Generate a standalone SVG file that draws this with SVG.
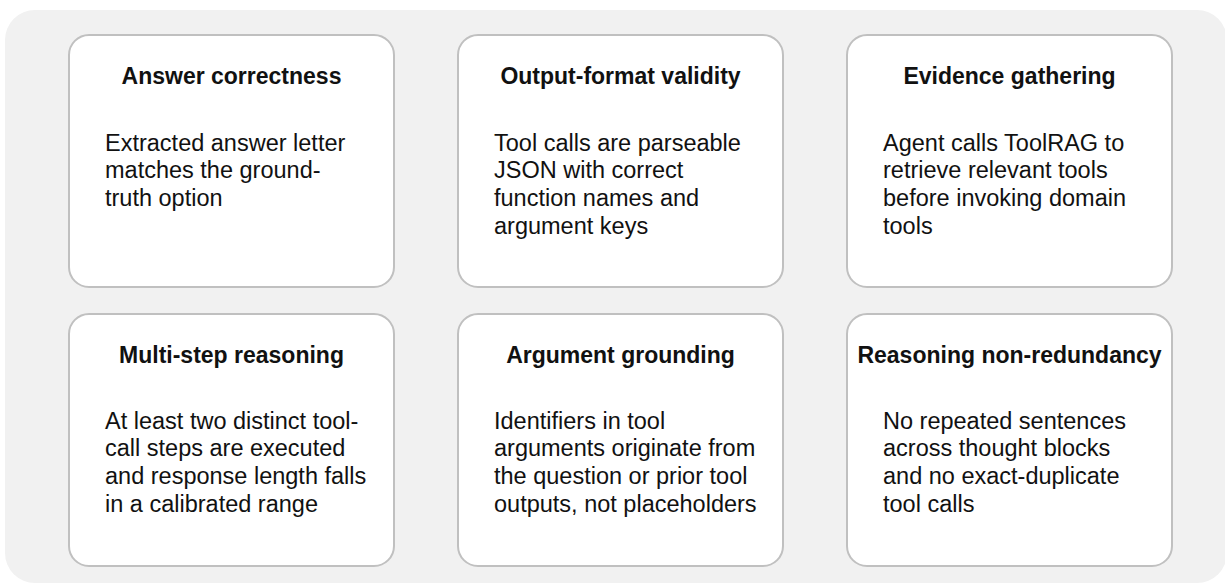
<svg xmlns="http://www.w3.org/2000/svg" width="1225" height="586" viewBox="0 0 1225 586">
<style>
.bg{fill:#f1f1f1}
.card{fill:#ffffff;stroke:#c0c0c0;stroke-width:2}
.t{font-family:"Liberation Sans",Arial,sans-serif;font-size:23px;font-weight:bold;fill:#111;text-anchor:middle}
.b{font-family:"Liberation Sans",Arial,sans-serif;font-size:23.5px;fill:#111}
</style>
<rect class="bg" x="5" y="10" width="1222" height="573" rx="30"/>
<g id="answer-correctness">
<rect class="card" x="69" y="35" width="325" height="252" rx="20"/>
<text class="t" x="231.5" y="84">Answer correctness</text>
<text class="b" x="105" y="150.5"><tspan x="105">Extracted answer letter</tspan><tspan x="105" dy="27.8">matches the ground-</tspan><tspan x="105" dy="27.8">truth option</tspan></text>
</g>
<g id="output-format-validity">
<rect class="card" x="458" y="35" width="325" height="252" rx="20"/>
<text class="t" x="620.5" y="84">Output-format validity</text>
<text class="b" x="494" y="150.5"><tspan x="494">Tool calls are parseable</tspan><tspan x="494" dy="27.8">JSON with correct</tspan><tspan x="494" dy="27.8">function names and</tspan><tspan x="494" dy="27.8">argument keys</tspan></text>
</g>
<g id="evidence-gathering">
<rect class="card" x="847" y="35" width="325" height="252" rx="20"/>
<text class="t" x="1009.5" y="84">Evidence gathering</text>
<text class="b" x="883" y="150.5"><tspan x="883">Agent calls ToolRAG to</tspan><tspan x="883" dy="27.8">retrieve relevant tools</tspan><tspan x="883" dy="27.8">before invoking domain</tspan><tspan x="883" dy="27.8">tools</tspan></text>
</g>
<g id="multi-step-reasoning">
<rect class="card" x="69" y="314" width="325" height="252" rx="20"/>
<text class="t" x="231.5" y="363">Multi-step reasoning</text>
<text class="b" x="105" y="428.5"><tspan x="105">At least two distinct tool-</tspan><tspan x="105" dy="27.8">call steps are executed</tspan><tspan x="105" dy="27.8">and response length falls</tspan><tspan x="105" dy="27.8">in a calibrated range</tspan></text>
</g>
<g id="argument-grounding">
<rect class="card" x="458" y="314" width="325" height="252" rx="20"/>
<text class="t" x="620.5" y="363">Argument grounding</text>
<text class="b" x="494" y="428.5"><tspan x="494">Identifiers in tool</tspan><tspan x="494" dy="27.8">arguments originate from</tspan><tspan x="494" dy="27.8">the question or prior tool</tspan><tspan x="494" dy="27.8">outputs, not placeholders</tspan></text>
</g>
<g id="reasoning-non-redundancy">
<rect class="card" x="847" y="314" width="325" height="252" rx="20"/>
<text class="t" x="1009.5" y="363">Reasoning non-redundancy</text>
<text class="b" x="883" y="428.5"><tspan x="883">No repeated sentences</tspan><tspan x="883" dy="27.8">across thought blocks</tspan><tspan x="883" dy="27.8">and no exact-duplicate</tspan><tspan x="883" dy="27.8">tool calls</tspan></text>
</g>
<g id="connectors"/>
</svg>
